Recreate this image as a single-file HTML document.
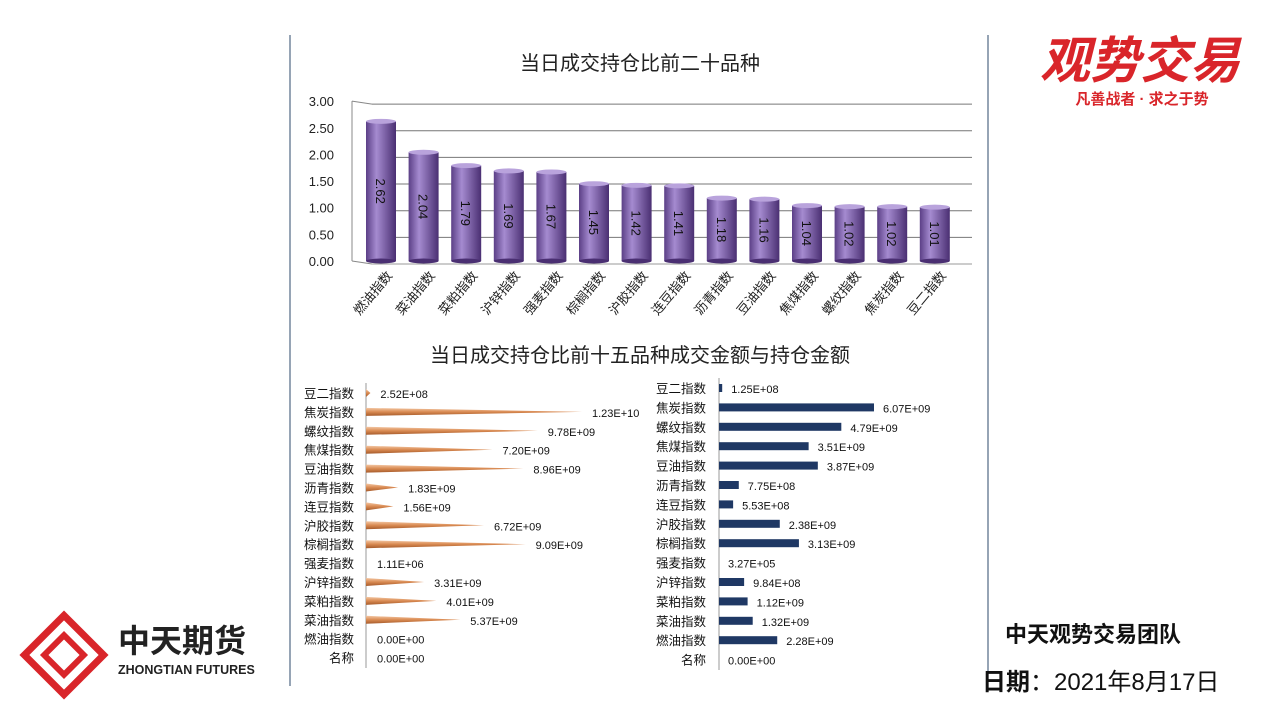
<!DOCTYPE html>
<html><head><meta charset="utf-8">
<style>
body{margin:0;width:1280px;height:720px;background:#fff;overflow:hidden;font-family:"Liberation Sans","Noto Sans CJK SC",sans-serif;}
svg text{font-family:"Liberation Sans","Noto Sans CJK SC",sans-serif;}
</style></head>
<body>
<svg width="1280" height="720">
<defs>
<linearGradient id="cyl" x1="0" x2="1" y1="0" y2="0">
<stop offset="0" stop-color="#5b3f86"/><stop offset="0.35" stop-color="#a58bd0"/><stop offset="1" stop-color="#4a2f72"/>
</linearGradient>
<linearGradient id="spk" x1="0" x2="0" y1="0" y2="1">
<stop offset="0" stop-color="#f3c7a4"/><stop offset="0.5" stop-color="#d98a52"/><stop offset="1" stop-color="#a65b2b"/>
</linearGradient>
</defs>
<line x1="290" y1="35" x2="290" y2="686" stroke="#2d4a6b"/>
<line x1="988" y1="35" x2="988" y2="686" stroke="#2d4a6b"/>
<text x="640" y="70" font-size="20" text-anchor="middle" fill="#222">当日成交持仓比前二十品种</text>
<g id="topG"></g>
<text x="640" y="362" font-size="20" text-anchor="middle" fill="#222">当日成交持仓比前十五品种成交金额与持仓金额</text>
<g id="bl"></g>
<g id="br"></g>
<g>
<text x="1140" y="78" font-size="50" font-weight="bold" fill="#d9252a" text-anchor="middle" font-style="italic">观势交易</text>
<text x="1142" y="104" font-size="15" font-weight="bold" fill="#d9252a" text-anchor="middle">凡善战者 · 求之于势</text>
</g>
<g>
<g transform="translate(64,655) rotate(45)">
<rect x="-28" y="-28" width="56" height="56" fill="none" stroke="#d9252a" stroke-width="7"/>
<rect x="-14" y="-14" width="28" height="28" fill="none" stroke="#d9252a" stroke-width="6"/>
</g>
<text x="118" y="652" font-size="32" font-weight="bold" fill="#222">中天期货</text>
<text x="118" y="674" font-size="12.5" font-weight="bold" fill="#222">ZHONGTIAN FUTURES</text>
</g>
<text x="1005" y="642" font-size="22" font-weight="bold" fill="#111">中天观势交易团队</text>
<text x="982" y="690" font-size="24" fill="#111"><tspan font-weight="bold">日期</tspan>：2021年8月17日</text>
</svg>
<script>
const NS="http://www.w3.org/2000/svg";
const topCats=["燃油指数","菜油指数","菜粕指数","沪锌指数","强麦指数","棕榈指数","沪胶指数","连豆指数","沥青指数","豆油指数","焦煤指数","螺纹指数","焦炭指数","豆二指数"];
const topVals=[2.62,2.04,1.79,1.69,1.67,1.45,1.42,1.41,1.18,1.16,1.04,1.02,1.02,1.01];
const topTicks=[0,0.5,1,1.5,2,2.5,3];
const rowCats=["豆二指数","焦炭指数","螺纹指数","焦煤指数","豆油指数","沥青指数","连豆指数","沪胶指数","棕榈指数","强麦指数","沪锌指数","菜粕指数","菜油指数","燃油指数","名称"];
const turnover=[2.52e8,1.23e10,9.78e9,7.20e9,8.96e9,1.83e9,1.56e9,6.72e9,9.09e9,1.11e6,3.31e9,4.01e9,5.37e9,0,0];
const oi=[1.25e8,6.07e9,4.79e9,3.51e9,3.87e9,7.75e8,5.53e8,2.38e9,3.13e9,3.27e5,9.84e8,1.12e9,1.32e9,2.28e9,0];
function el(t,a,p){const e=document.createElementNS(NS,t);for(const k in a)e.setAttribute(k,a[k]);p.appendChild(e);return e;}
function fmt(v){if(v===0)return "0.00E+00";let e=Math.floor(Math.log10(v));let m=v/Math.pow(10,e);if(m>=9.995){m/=10;e++;}return m.toFixed(2)+"E+"+(e<10?"0"+e:e);}
const topG=document.getElementById('topG');
const yS=v=>261-v*53.3;
const xb=i=>381+i*42.6;
topTicks.forEach(t=>{
 const l=el('line',{x1:372,x2:972,y1:yS(t)+3,y2:yS(t)+3,stroke:t===0?'#999':'#777','stroke-width':1},topG);
 
 
 const tx=el('text',{x:334,y:yS(t)+5,'font-size':13,'text-anchor':'end',fill:'#222'},topG);tx.textContent=t.toFixed(2);
 
 
});
el('line',{x1:352,x2:352,y1:yS(3),y2:yS(0),stroke:'#888'},topG);
el('line',{x1:352,x2:372,y1:yS(3),y2:yS(3)+3,stroke:'#888'},topG);
el('line',{x1:352,x2:372,y1:yS(0),y2:yS(0)+3,stroke:'#888'},topG);
topVals.forEach((v,i)=>{
 const cx=xb(i),w=30;
 const r=el('rect',{x:cx-w/2,y:yS(v),width:w,height:yS(0)-yS(v),fill:'url(#cyl)'},topG);
 
 
 el('ellipse',{cx:cx,cy:yS(v),rx:w/2,ry:2.5,fill:'#b9a3dc'},topG);
 el('ellipse',{cx:cx,cy:yS(0),rx:w/2,ry:2.5,fill:'#4a2f72'},topG);
 const lb=el('text',{transform:`translate(${cx-5},${(yS(v)+yS(0))/2}) rotate(90)`,'font-size':13,'text-anchor':'middle',fill:'#111'},topG);lb.textContent=v.toFixed(2);
 
 
 const c=el('text',{transform:`translate(${cx+12},276) rotate(-50)`,'font-size':13,'text-anchor':'end',fill:'#222'},topG);c.textContent=topCats[i];
 
 
});
const bl=document.getElementById('bl'),br=document.getElementById('br');
el('line',{x1:366,x2:366,y1:383,y2:668,stroke:'#999'},bl);
el('line',{x1:719,x2:719,y1:378,y2:670,stroke:'#999'},br);
const sL=216/1.23e10,sR=155/6.07e9;
rowCats.forEach((c,i)=>{
 const yy=393+i*18.9;
 const a=el('text',{x:354,y:yy+5,'font-size':12.5,'text-anchor':'end',fill:'#111'},bl);a.textContent=c;
 
 
 const len=turnover[i]*sL;
 if(len>0.5){const p=el('polygon',{points:`366,${yy-4} ${366+len},${yy} 366,${yy+4}`,fill:'url(#spk)'},bl);
 
 }
 const t=el('text',{x:366+Math.max(len,1)+10,y:yy+5,'font-size':11,fill:'#111'},bl);t.textContent=fmt(turnover[i]);
 
 
 const yr=388+i*19.4;
 const b=el('text',{x:706,y:yr+5,'font-size':12.5,'text-anchor':'end',fill:'#111'},br);b.textContent=c;
 
 
 const w=oi[i]*sR;
 if(w>0.5){const r=el('rect',{x:719,y:yr-4,width:Math.max(w,2.5),height:8,fill:'#1f3864'},br);
 
 }
 const t2=el('text',{x:719+Math.max(w,0)+9,y:yr+5,'font-size':11,fill:'#111'},br);t2.textContent=fmt(oi[i]);
 
 
});
</script>
</body></html>
